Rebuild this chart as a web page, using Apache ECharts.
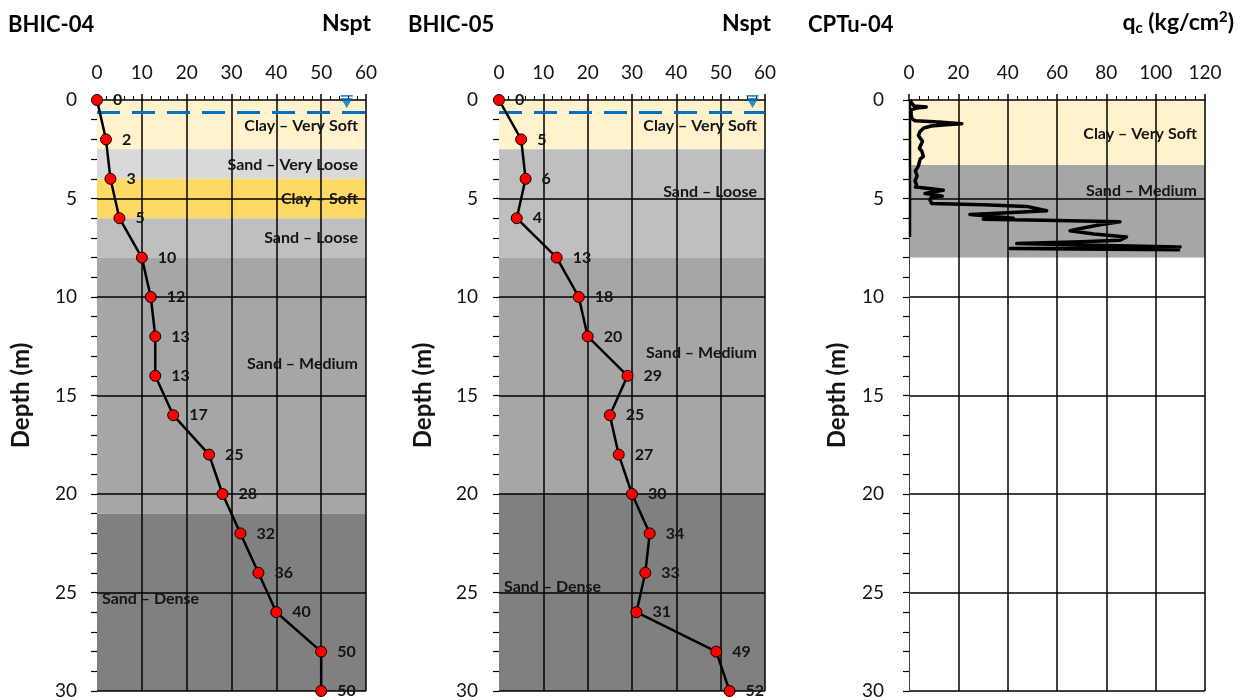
<!DOCTYPE html>
<html><head><meta charset="utf-8">
<script src="https://cdn.jsdelivr.net/npm/echarts@6/dist/echarts.min.js"></script>
<style>html,body{margin:0;padding:0;background:#fff}#c{width:1245px;height:700px}</style>
</head><body><div id="c"></div>
<script>
const FONT = 'Lato, "Open Sans", "Liberation Sans", sans-serif';

// ---- BHIC-04 ----
const depths04 = [0, 2, 4, 6, 8, 10, 12, 14, 16, 18, 20, 22, 24, 26, 28, 30];
const nspt04 = [0, 2, 3, 5, 10, 12, 13, 13, 17, 25, 28, 32, 36, 40, 50, 50];
const layers04Names = ['Clay – Very Soft', 'Sand – Very Loose', 'Clay – Soft', 'Sand – Loose', 'Sand – Medium', 'Sand – Dense'];
const layers04Top = [0, 2.5, 4, 6, 8, 21];
const layers04Bottom = [2.5, 4, 6, 8, 21, 30];
const layers04LabelDepth = [1.3, 3.3, 5.0, 7.0, 13.4, 25.3];

// ---- BHIC-05 ----
const depths05 = [0, 2, 4, 6, 8, 10, 12, 14, 16, 18, 20, 22, 24, 26, 28, 30];
const nspt05 = [0, 5, 6, 4, 13, 18, 20, 29, 25, 27, 30, 34, 33, 31, 49, 52];
const layers05Names = ['Clay – Very Soft', 'Sand – Loose', 'Sand – Medium', 'Sand – Dense'];
const layers05Top = [0, 2.5, 8, 20];
const layers05Bottom = [2.5, 8, 20, 30];
const layers05LabelDepth = [1.3, 4.65, 12.85, 24.7];

// ---- CPTu-04 ----
const cptLayerNames = ['Clay – Very Soft', 'Sand – Medium'];
const cptLayerTop = [0, 3.3];
const cptLayerBottom = [3.3, 8];
const cptLayerLabelDepth = [1.7, 4.6];
const cptQc = [0.5, 1.0, 2.0, 7.0, 2.5, 1.0, 0.8, 1.2, 2.5, 12, 21.4, 15, 9, 6, 4.5, 3.8, 4.5, 5.5, 4.8, 4.2, 5.2, 5.8, 4.5, 4.8, 3.8, 2.6, 3.3, 2.4, 3.1, 2.6, 9, 13.9, 10, 6.5, 10, 13.5, 9, 8.5, 9.2, 30, 47.7, 55.8, 40, 24.7, 33, 42.3, 30.1, 60, 85.5, 78, 70.6, 65.3, 64.6, 75, 88.2, 85.5, 70, 43.7, 80, 109.9, 75, 41, 80, 109.9];
const cptDepth = [0.0, 0.15, 0.3, 0.35, 0.42, 0.5, 0.7, 0.95, 1.05, 1.12, 1.2, 1.26, 1.32, 1.42, 1.6, 1.8, 1.93, 2.1, 2.27, 2.45, 2.6, 2.86, 3.0, 3.1, 3.36, 3.6, 3.86, 4.1, 4.3, 4.42, 4.5, 4.58, 4.66, 4.75, 4.8, 4.88, 4.95, 5.08, 5.25, 5.32, 5.4, 5.62, 5.72, 5.81, 5.9, 6.0, 6.05, 6.12, 6.18, 6.32, 6.5, 6.64, 6.7, 6.8, 6.95, 7.12, 7.2, 7.29, 7.38, 7.46, 7.5, 7.54, 7.57, 7.6];
const cptRodQc = [0.4, 0.4];
const cptRodDepth = [0, 6.95];

// ---- water table ----
const waterDepth = 0.64;
const waterMarkDepth = 0.08;
const waterMarkX04 = 55.7;
const waterMarkX05 = 57.2;

const soilColors = {
  'Clay – Very Soft': '#FFF2CC',
  'Sand – Very Loose': '#D9D9D9',
  'Clay – Soft': '#FFD966',
  'Sand – Loose': '#BFBFBF',
  'Sand – Medium': '#A6A6A6',
  'Sand – Dense': '#808080'
};
const TXT = '#141414';

function bandSeries(gi, names, tops, bottoms) {
  return {
    type: 'custom', xAxisIndex: gi, yAxisIndex: gi, z: -1, silent: true,
    data: names.map((n, i) => [0, tops[i], bottoms[i], i]),
    encode: { x: 0, y: [1, 2] },
    renderItem: (params, api) => {
      const cs = params.coordSys;
      const y0 = api.coord([0, api.value(1)])[1];
      const y1 = api.coord([0, api.value(2)])[1];
      return { type: 'rect', shape: { x: cs.x, y: y0, width: cs.width, height: y1 - y0 },
        style: { fill: soilColors[names[api.value(3)]] } };
    }
  };
}
function layerLabelSeries(gi, names, labelDepths, xMax) {
  return {
    type: 'custom', xAxisIndex: gi, yAxisIndex: gi, z: 3, silent: true,
    data: names.map((n, i) => [n === 'Sand – Dense' ? 0 : xMax, labelDepths[i], i]),
    encode: { x: 0, y: 1 },
    renderItem: (params, api) => {
      const name = names[api.value(2)];
      const left = name === 'Sand – Dense';
      const p = api.coord([api.value(0), api.value(1)]);
      return { type: 'text', x: p[0] + (left ? 5 : -8), y: p[1],
        style: { text: name, fill: TXT, font: `bold 16px ${FONT}`,
          align: left ? 'left' : 'right', verticalAlign: 'middle' } };
    }
  };
}
function nsptSeries(gi, vals, depths) {
  return {
    type: 'line', xAxisIndex: gi, yAxisIndex: gi, clip: false, z: 5,
    data: vals.map((v, i) => [v, depths[i]]),
    symbol: 'circle', symbolSize: 11,
    lineStyle: { color: '#000', width: 2.5 },
    itemStyle: { color: '#FF0000', borderColor: '#000', borderWidth: 1 },
    label: { show: true, position: 'right', distance: 10, formatter: p => p.value[0],
      fontFamily: FONT, fontWeight: 'bold', fontSize: 16, color: TXT },
    markLine: { silent: true, symbol: 'none', label: { show: false }, animation: false,
      lineStyle: { color: '#0070C0', width: 3, type: [23, 12] },
      data: [{ yAxis: waterDepth }] }
  };
}
function waterMark(gi, x) {
  return {
    type: 'scatter', xAxisIndex: gi, yAxisIndex: gi, silent: true, clip: false, z: 6,
    data: [[x, waterMarkDepth]],
    symbol: 'path://M0,0H12V1.6H0Z M0,3H12L6,13Z', symbolSize: [12, 13],
    itemStyle: { color: '#0070C0' }
  };
}
function xAxisCfg(gi, max, interval) {
  return {
    type: 'value', gridIndex: gi, position: 'top', min: 0, max: max, interval: interval,
    axisLine: { show: true, lineStyle: { color: '#000', width: 1.5 } },
    axisTick: { show: true, length: 6, lineStyle: { color: '#000', width: 1.5 } },
    minorTick: { show: true, splitNumber: 5, length: 4, lineStyle: { color: '#000', width: 1 } },
    splitLine: { show: true, showMinLine: false, lineStyle: { color: '#000', width: 1.5 } },
    minorSplitLine: { show: false },
    axisLabel: { fontFamily: FONT, fontSize: 19, color: TXT, margin: 18 }
  };
}
function yAxisCfg(gi, showLine, nameGap, labelMargin) {
  return {
    type: 'value', gridIndex: gi, inverse: true, min: 0, max: 30, interval: 5,
    name: 'Depth (m)', nameLocation: 'middle', nameGap: nameGap,
    nameTextStyle: { fontFamily: FONT, fontWeight: 'bold', fontSize: 24, color: TXT },
    axisLine: { show: showLine, lineStyle: { color: '#404040', width: 1 } },
    axisTick: { show: true, length: 6, lineStyle: { color: '#000', width: 1.2 } },
    minorTick: { show: true, splitNumber: 5, length: 6, lineStyle: { color: '#000', width: 1.2 } },
    splitLine: { show: true, showMinLine: false, lineStyle: { color: '#000', width: 1.5 } },
    axisLabel: { fontFamily: FONT, fontSize: 19, color: TXT, margin: labelMargin }
  };
}

const chart = echarts.init(document.getElementById('c'), null, { renderer: 'canvas' });
const titleFont = `bold 22px ${FONT}`;
chart.setOption({
  animation: false,
  backgroundColor: '#fff',
  grid: [
    { left: 97, top: 100, width: 269, height: 591, outerBoundsMode: 'none' },
    { left: 499, top: 100, width: 266, height: 591, outerBoundsMode: 'none' },
    { left: 909, top: 100, width: 296, height: 591, outerBoundsMode: 'none' }
  ],
  xAxis: [xAxisCfg(0, 60, 10), xAxisCfg(1, 60, 10), xAxisCfg(2, 120, 20)],
  yAxis: [yAxisCfg(0, false, 64, 20), yAxisCfg(1, false, 64, 21), yAxisCfg(2, true, 60, 25)],
  graphic: [
    { type: 'text', x: 8, y: 25, style: { text: 'BHIC-04', font: titleFont, fill: '#000', verticalAlign: 'middle' } },
    { type: 'text', x: 371, y: 24, style: { text: 'Nspt', font: `bold 23px ${FONT}`, fill: '#000', align: 'right', verticalAlign: 'middle' } },
    { type: 'text', x: 408, y: 25, style: { text: 'BHIC-05', font: titleFont, fill: '#000', verticalAlign: 'middle' } },
    { type: 'text', x: 771, y: 24, style: { text: 'Nspt', font: `bold 23px ${FONT}`, fill: '#000', align: 'right', verticalAlign: 'middle' } },
    { type: 'text', x: 808, y: 25, style: { text: 'CPTu-04', font: titleFont, fill: '#000', verticalAlign: 'middle' } },
    { type: 'text', x: 1234, y: 23, style: {
        text: '{a|q}{s|c}{a| (kg/cm}{p|2}{a|)}', align: 'right', verticalAlign: 'middle',
        rich: {
          a: { fontFamily: FONT, fontWeight: 'bold', fontSize: 23, lineHeight: 26, color: '#000' },
          s: { fontFamily: FONT, fontWeight: 'bold', fontSize: 15, lineHeight: 14, verticalAlign: 'bottom', color: '#000' },
          p: { fontFamily: FONT, fontWeight: 'bold', fontSize: 15, lineHeight: 14, verticalAlign: 'top', color: '#000' }
        } } }
  ],
  series: [
    bandSeries(0, layers04Names, layers04Top, layers04Bottom),
    layerLabelSeries(0, layers04Names, layers04LabelDepth, 60),
    nsptSeries(0, nspt04, depths04),
    waterMark(0, waterMarkX04),

    bandSeries(1, layers05Names, layers05Top, layers05Bottom),
    layerLabelSeries(1, layers05Names, layers05LabelDepth, 60),
    nsptSeries(1, nspt05, depths05),
    waterMark(1, waterMarkX05),

    bandSeries(2, cptLayerNames, cptLayerTop, cptLayerBottom),
    layerLabelSeries(2, cptLayerNames, cptLayerLabelDepth, 120),
    { type: 'line', xAxisIndex: 2, yAxisIndex: 2, z: 4, silent: true, showSymbol: false, symbol: 'none',
      data: cptRodQc.map((q, i) => [q, cptRodDepth[i]]), lineStyle: { color: '#000', width: 2.5 } },
    { type: 'line', xAxisIndex: 2, yAxisIndex: 2, z: 5, silent: true, showSymbol: false, symbol: 'none',
      data: cptQc.map((q, i) => [q, cptDepth[i]]), lineStyle: { color: '#000', width: 3.5, join: 'round' } }
  ]
});
</script>
</body></html>
